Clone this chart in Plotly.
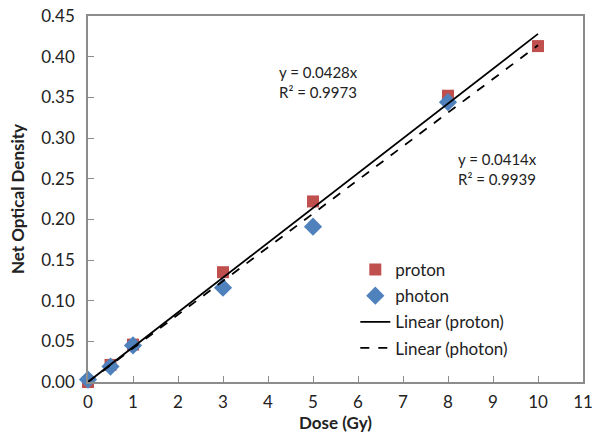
import plotly.graph_objects as go

dose = [0, 0.5, 1, 3, 5, 8, 10]
proton = [0.0, 0.021, 0.046, 0.135, 0.222, 0.352, 0.413]
dose_photon = [0, 0.5, 1, 3, 5, 8]
photon = [0.003, 0.019, 0.045, 0.116, 0.191, 0.344]
slope_proton = 0.0428
slope_photon = 0.0414
fit_x = [0, 10]
x_ticks = list(range(0, 12))
y_ticks = [0.0, 0.05, 0.10, 0.15, 0.20, 0.25, 0.30, 0.35, 0.40, 0.45]

FONT = "Lato"
AXIS_COLOR = "#8c8c8c"
TEXT = "#222222"

fig = go.Figure()
fig.add_trace(go.Scatter(x=dose, y=proton, mode="markers", name="proton",
                         marker=dict(symbol="square", size=12, color="#C0504D"),
                         cliponaxis=False, legendgroup="a"))
fig.add_trace(go.Scatter(x=dose_photon, y=photon, mode="markers", name="photon",
                         marker=dict(symbol="diamond", size=14, color="#4F81BD"),
                         cliponaxis=False, legendgroup="b"))
fig.add_trace(go.Scatter(x=fit_x, y=[slope_proton * v for v in fit_x], mode="lines",
                         name="Linear (proton)", line=dict(color="black", width=1.8),
                         legendgroup="c"))
fig.add_trace(go.Scatter(x=fit_x, y=[slope_photon * v for v in fit_x], mode="lines",
                         name="Linear (photon)", line=dict(color="black", width=1.8, dash="dash"),
                         legendgroup="d"))

fig.add_annotation(text="y = 0.0428x<br>R² = 0.9973", x=4.2, y=0.369, xref="x", yref="y",
                   xanchor="left", yanchor="middle", showarrow=False, align="left",
                   font=dict(family=FONT, size=15, color=TEXT))
fig.add_annotation(text="y = 0.0414x<br>R² = 0.9939", x=8.18, y=0.262, xref="x", yref="y",
                   xanchor="left", yanchor="middle", showarrow=False, align="left",
                   font=dict(family=FONT, size=15, color=TEXT))

axis_common = dict(showline=True, linecolor=AXIS_COLOR, linewidth=1.5, mirror=True,
                   ticks="inside", ticklen=6, tickcolor=AXIS_COLOR, showgrid=False,
                   zeroline=False, automargin=False, ticklabeloverflow="allow",
                   tickfont=dict(family=FONT, size=17, color=TEXT))
fig.update_xaxes(range=[0, 11], tickvals=x_ticks, ticktext=[str(v) for v in x_ticks],
                 ticklabelstandoff=4,
                 title=dict(text="<b>Dose (Gy)</b>", font=dict(family=FONT, size=17, color=TEXT),
                            standoff=4), **axis_common)
fig.update_yaxes(range=[0, 0.45], tickvals=y_ticks, tickformat=".2f",
                 ticklabelstandoff=8,
                 title=dict(text="<b>Net Optical Density</b>", font=dict(family=FONT, size=17, color=TEXT),
                            standoff=12), **axis_common)

fig.update_layout(width=602, height=438, margin=dict(l=88, r=19, t=16, b=56),
                  paper_bgcolor="white", plot_bgcolor="white",
                  legend=dict(x=0.54, y=0.355, xanchor="left", yanchor="top",
                              font=dict(family=FONT, size=17, color=TEXT),
                              bgcolor="rgba(0,0,0,0)", tracegroupgap=1),
                  showlegend=True)

# remove the default 8px page margin so the figure sits at the window's corner
fig.write_html("out.html", config={"displayModeBar": False},
               post_script="document.body.style.margin='0';")
